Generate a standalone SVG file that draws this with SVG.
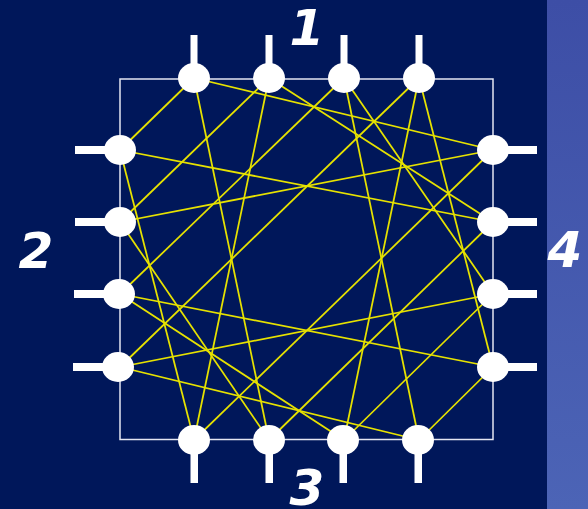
<svg xmlns="http://www.w3.org/2000/svg" width="588" height="509" viewBox="0 0 588 509">
<defs>
<linearGradient id="panel" x1="0" y1="0" x2="0" y2="1">
<stop offset="0" stop-color="#3d4ea6"/>
<stop offset="1" stop-color="#4c64b6"/>
</linearGradient>
<style>
.lbl{font-family:"DejaVu Sans",sans-serif;font-weight:bold;font-style:italic;font-size:50px;fill:#ffffff;text-anchor:middle}
.node ellipse{fill:#ffffff}
.stem{fill:#ffffff}
.conn line{stroke:#e6e200;stroke-width:1.75}
</style>
</defs>
<rect x="0" y="0" width="588" height="509" fill="#00175a"/>
<rect x="547" y="0" width="41" height="509" fill="url(#panel)"/>
<rect x="120" y="79" width="373" height="360.5" fill="none" stroke="#e4e6f2" stroke-width="1.5"/>
<g id="connectors" class="conn">
<line x1="194" y1="78" x2="120" y2="150"/>
<line x1="194" y1="78" x2="493" y2="150"/>
<line x1="194" y1="78" x2="269" y2="440"/>
<line x1="269" y1="78" x2="120" y2="222"/>
<line x1="269" y1="78" x2="194" y2="440"/>
<line x1="269" y1="78" x2="493" y2="222"/>
<line x1="344" y1="78" x2="120" y2="294"/>
<line x1="344" y1="78" x2="419" y2="440"/>
<line x1="344" y1="78" x2="493" y2="294"/>
<line x1="419" y1="78" x2="120" y2="367"/>
<line x1="419" y1="78" x2="344" y2="440"/>
<line x1="419" y1="78" x2="493" y2="367"/>
<line x1="120" y1="150" x2="493" y2="222"/>
<line x1="120" y1="150" x2="194" y2="440"/>
<line x1="120" y1="222" x2="493" y2="150"/>
<line x1="120" y1="222" x2="269" y2="440"/>
<line x1="120" y1="294" x2="493" y2="367"/>
<line x1="120" y1="294" x2="344" y2="440"/>
<line x1="120" y1="367" x2="493" y2="294"/>
<line x1="120" y1="367" x2="419" y2="440"/>
<line x1="493" y1="150" x2="194" y2="440"/>
<line x1="493" y1="222" x2="269" y2="440"/>
<line x1="493" y1="294" x2="344" y2="440"/>
<line x1="493" y1="367" x2="419" y2="440"/>
</g>
<g id="T1" class="node"><rect class="stem" x="190.5" y="35" width="7" height="40"/><ellipse cx="194" cy="78" rx="16" ry="15"/></g>
<g id="T2" class="node"><rect class="stem" x="265.5" y="35" width="7" height="40"/><ellipse cx="269" cy="78" rx="16" ry="15"/></g>
<g id="T3" class="node"><rect class="stem" x="340.5" y="35" width="7" height="40"/><ellipse cx="344" cy="78" rx="16" ry="15"/></g>
<g id="T4" class="node"><rect class="stem" x="415.5" y="35" width="7" height="40"/><ellipse cx="419" cy="78" rx="16" ry="15"/></g>
<g id="L1" class="node"><rect class="stem" x="75" y="146" width="45" height="8"/><ellipse cx="120" cy="150" rx="16" ry="15"/></g>
<g id="L2" class="node"><rect class="stem" x="75" y="218" width="45" height="8"/><ellipse cx="120" cy="222" rx="16" ry="15"/></g>
<g id="L3" class="node"><rect class="stem" x="74" y="290" width="45" height="8"/><ellipse cx="119" cy="294" rx="16" ry="15"/></g>
<g id="L4" class="node"><rect class="stem" x="73" y="363" width="45" height="8"/><ellipse cx="118" cy="367" rx="16" ry="15"/></g>
<g id="R1" class="node"><rect class="stem" x="493" y="146" width="44" height="8"/><ellipse cx="493" cy="150" rx="16" ry="15"/></g>
<g id="R2" class="node"><rect class="stem" x="493" y="218" width="44" height="8"/><ellipse cx="493" cy="222" rx="16" ry="15"/></g>
<g id="R3" class="node"><rect class="stem" x="493" y="290" width="44" height="8"/><ellipse cx="493" cy="294" rx="16" ry="15"/></g>
<g id="R4" class="node"><rect class="stem" x="493" y="363" width="44" height="8"/><ellipse cx="493" cy="367" rx="16" ry="15"/></g>
<g id="B1" class="node"><rect class="stem" x="190.5" y="440" width="7.5" height="43"/><ellipse cx="194" cy="440" rx="16" ry="15"/></g>
<g id="B2" class="node"><rect class="stem" x="265.5" y="440" width="7.5" height="43"/><ellipse cx="269" cy="440" rx="16" ry="15"/></g>
<g id="B3" class="node"><rect class="stem" x="339.5" y="440" width="7.5" height="43"/><ellipse cx="343" cy="440" rx="16" ry="15"/></g>
<g id="B4" class="node"><rect class="stem" x="414.5" y="440" width="7.5" height="43"/><ellipse cx="418" cy="440" rx="16" ry="15"/></g>
<text class="lbl" x="307" y="45">1</text>
<text class="lbl" x="36" y="268">2</text>
<text class="lbl" x="307" y="505">3</text>
<text class="lbl" x="565" y="267">4</text>
</svg>
